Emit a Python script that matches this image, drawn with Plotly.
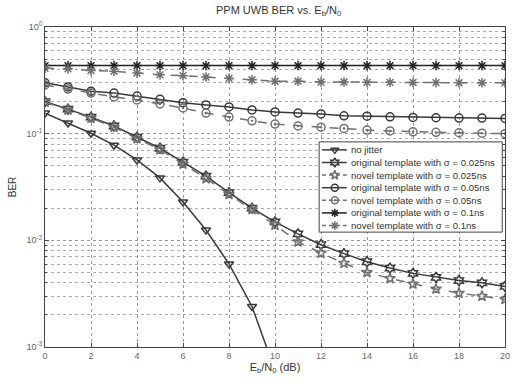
import plotly.graph_objects as go

ebn0 = list(range(0, 21))
no_jitter_x = list(range(0, 11))
no_jitter = [0.156, 0.126, 0.101, 0.078, 0.0567, 0.0385, 0.0229, 0.0125, 0.0060, 0.0024, 0.0006]
orig_025 = [0.20, 0.17, 0.143, 0.118, 0.093, 0.073, 0.054, 0.040, 0.028, 0.020, 0.0149,
            0.0115, 0.0091, 0.0075, 0.0063, 0.0055, 0.0049, 0.0045, 0.0042, 0.0040, 0.0037]
novel_025 = [0.198, 0.167, 0.140, 0.115, 0.090, 0.071, 0.052, 0.038, 0.027, 0.0195, 0.0139,
             0.0097, 0.0076, 0.0061, 0.0050, 0.0044, 0.0039, 0.0035, 0.0032, 0.0030, 0.0028]
orig_05 = [0.30, 0.274, 0.25, 0.24, 0.225, 0.21, 0.195, 0.186, 0.178, 0.167, 0.16,
           0.156, 0.153, 0.147, 0.146, 0.144, 0.142, 0.141, 0.14, 0.14, 0.139]
novel_05 = [0.286, 0.262, 0.24, 0.221, 0.207, 0.19, 0.174, 0.156, 0.143, 0.132, 0.123,
            0.118, 0.115, 0.112, 0.108, 0.106, 0.104, 0.103, 0.102, 0.101, 0.100]
orig_1 = [0.435] * 21
novel_1 = [0.41, 0.405, 0.39, 0.385, 0.37, 0.356, 0.35, 0.34, 0.33, 0.32, 0.31,
           0.31, 0.305, 0.305, 0.303, 0.303, 0.302, 0.301, 0.30, 0.30, 0.30]

names = ["no jitter",
         "original template with σ = 0.025ns",
         "novel template with σ = 0.025ns",
         "original template with σ = 0.05ns",
         "novel template with σ = 0.05ns",
         "original template with σ = 0.1ns",
         "novel template with σ = 0.1ns"]

xticks = list(range(0, 21, 2))
yticks = [1e-3, 1e-2, 1e-1, 1]
yticklabels = ["10<sup>-3</sup>", "10<sup>-2</sup>", "10<sup>-1</sup>", "10<sup>0</sup>"]
yminor = [m * 10 ** e for e in (-3, -2, -1) for m in range(2, 10)]

solid = "#3a3a3a"
dashc = "#707070"

series = [
    (no_jitter_x, no_jitter, "triangle-down-open", "solid", solid),
    (ebn0, orig_025, "hexagram-open", "solid", solid),
    (ebn0, novel_025, "star-open", "dash", dashc),
    (ebn0, orig_05, "circle-open", "solid", solid),
    (ebn0, novel_05, "circle-open-dot", "dash", dashc),
    (ebn0, orig_1, "asterisk-open", "solid", "#222222"),
    (ebn0, novel_1, "asterisk-open", "dash", dashc),
]

fig = go.Figure()
for (x, y, sym, dash, col), nm in zip(series, names):
    fig.add_trace(go.Scatter(
        x=x, y=y, name=nm, mode="lines+markers", showlegend=False,
        line=dict(color=col, width=1.5, dash=dash),
        marker=dict(symbol=sym, size=8, color=col, line=dict(color=col, width=1.5)),
    ))

# Legend drawn on an overlay axis (0..1 in both directions over the plot area)
bx0, bx1, by0, by1 = 0.596, 0.994, 0.359, 0.641
fig.add_trace(go.Scatter(
    x=[bx0, bx1, bx1, bx0, bx0], y=[by0, by0, by1, by1, by0], xaxis="x2", yaxis="y2",
    mode="lines", fill="toself", fillcolor="white", line=dict(color="#444", width=1),
    showlegend=False, hoverinfo="skip"))
ly_top, ly_step = 0.616, 0.0394
lx0, lx1, lxm, ltx = 0.602, 0.656, 0.630, 0.660
for i, ((x, y, sym, dash, col), nm) in enumerate(zip(series, names)):
    yy = ly_top - i * ly_step
    fig.add_trace(go.Scatter(
        x=[lx0, lx1], y=[yy, yy], xaxis="x2", yaxis="y2", mode="lines",
        line=dict(color=col, width=1.5, dash="4px,3px" if dash == "dash" else "solid"),
        showlegend=False, hoverinfo="skip"))
    fig.add_trace(go.Scatter(
        x=[lxm], y=[yy], xaxis="x2", yaxis="y2", mode="markers",
        marker=dict(symbol=sym, size=7, color=col, line=dict(color=col, width=1.5)),
        showlegend=False, hoverinfo="skip"))
    fig.add_annotation(x=ltx, y=yy, xref="x2", yref="y2", text=nm, showarrow=False,
                       xanchor="left", yanchor="middle",
                       font=dict(size=9.6, color="#333", family="Liberation Sans, Arial"))

axis_common = dict(showline=True, linecolor="#444", linewidth=1, mirror="ticks",
                   ticks="inside", ticklen=4, tickcolor="#444",
                   showgrid=True, gridcolor="#999", griddash="dot", gridwidth=1,
                   zeroline=False, tickfont=dict(size=9, color="#666"))

fig.update_layout(
    width=516, height=389,
    margin=dict(l=45, r=6, t=27, b=42),
    paper_bgcolor="white", plot_bgcolor="white",
    font=dict(family="Liberation Sans, Arial", color="#333"),
    title=dict(text="PPM UWB BER vs. E<sub>b</sub>/N<sub>0</sub>", x=0.54, xanchor="center",
               y=0.975, yanchor="middle", font=dict(size=11, color="#333")),
    xaxis=dict(range=[0, 20], tickvals=xticks,
               title=dict(text="E<sub>b</sub>/N<sub>0</sub> (dB)", font=dict(size=11), standoff=0),
               **axis_common),
    yaxis=dict(type="log", range=[-3, 0], tickvals=yticks, ticktext=yticklabels,
               title=dict(text="BER", font=dict(size=10), standoff=8),
               minor=dict(tickvals=yminor, showgrid=True, gridcolor="#aaa", griddash="dot",
                          ticks="inside", ticklen=2, tickcolor="#444"),
               **axis_common),
    xaxis2=dict(overlaying="x", range=[0, 1], visible=False, fixedrange=True),
    yaxis2=dict(overlaying="y", range=[0, 1], visible=False, fixedrange=True),
    showlegend=False,
)

fig.write_html("out.html")
